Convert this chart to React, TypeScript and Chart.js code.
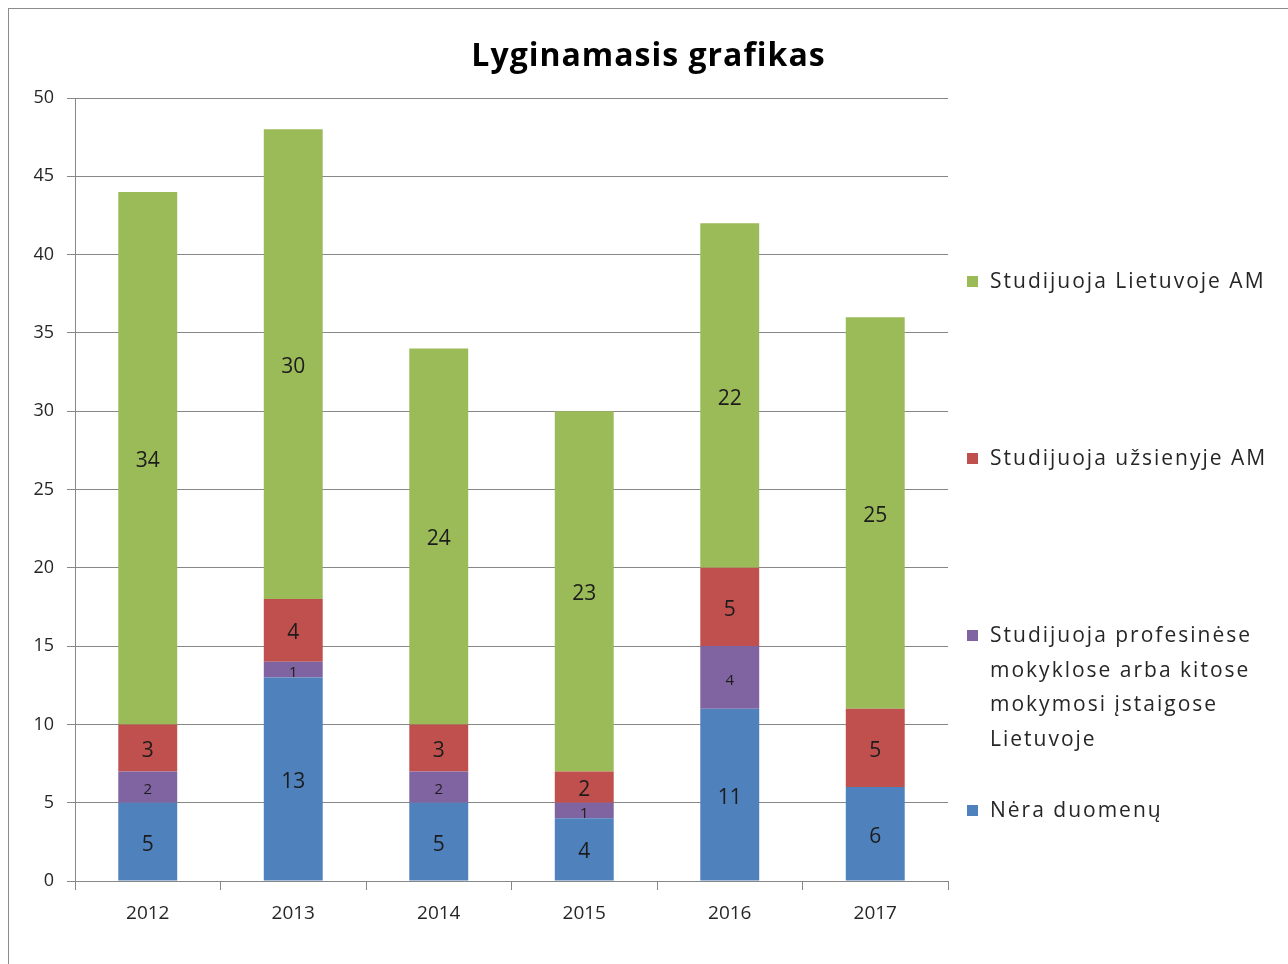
import React, { useEffect, useRef } from "react";
import { Chart, registerables } from "chart.js";

Chart.register(...registerables);

const categories = ["2012", "2013", "2014", "2015", "2016", "2017"];
const neraDuomenu = [5, 13, 5, 4, 11, 6];
const profesinese = [2, 1, 2, 1, 4, 0];
const uzsienyje = [3, 4, 3, 2, 5, 5];
const lietuvoje = [34, 30, 24, 23, 22, 25];

const seriesNames = [
  "Nėra duomenų",
  "Studijuoja profesinėse mokyklose arba kitose mokymosi įstaigose Lietuvoje",
  "Studijuoja užsienyje AM",
  "Studijuoja Lietuvoje AM",
];
const seriesColors = ["#4F81BD", "#8064A2", "#C0504D", "#9BBB59"];
const titleText = "Lyginamasis grafikas";

const FONT = "'Open Sans', Lato, sans-serif";
const TEXT = "#262626";
const GRID = "#878787";

const segmentLabels = {
  id: "segmentLabels",
  afterDatasetsDraw(chart: any) {
    const ctx = chart.ctx;
    chart.data.datasets.forEach((ds: any, i: number) => {
      const meta = chart.getDatasetMeta(i);
      meta.data.forEach((bar: any, j: number) => {
        const v = ds.data[j];
        if (!v) return;
        const p = bar.getProps(["x", "y", "base"], true);
        ctx.save();
        ctx.font = `${i === 1 ? 15 : 21}px ${FONT}`;
        ctx.fillStyle = "#1c1c1c";
        ctx.textAlign = "center";
        ctx.textBaseline = "middle";
        ctx.fillText(String(v), p.x, (p.y + p.base) / 2 + 3);
        ctx.restore();
      });
    });
  },
};

const chartTitle = {
  id: "chartTitle",
  afterDraw(chart: any) {
    const ctx = chart.ctx;
    ctx.save();
    ctx.font = `bold 32px ${FONT}`;
    (ctx as any).letterSpacing = "1px";
    ctx.fillStyle = "#000";
    ctx.textAlign = "center";
    ctx.textBaseline = "middle";
    ctx.fillText(titleText, chart.width / 2, 48);
    ctx.restore();
  },
};

const sideLegend = {
  id: "sideLegend",
  afterDraw(chart: any) {
    const ctx = chart.ctx;
    const area = chart.chartArea;
    const boxX = area.right + 19;
    const textX = area.right + 42;
    const maxW = chart.width - textX - 2;
    const lineH = 34.7;
    const firstLineY = [273, 450, 627, 802];
    ctx.save();
    ctx.font = `21px ${FONT}`;
    (ctx as any).letterSpacing = "2px";
    ctx.textBaseline = "middle";
    ctx.textAlign = "left";
    const order = [3, 2, 1, 0];
    order.forEach((di, k) => {
      const words = seriesNames[di].split(" ");
      const lines: string[] = [];
      let cur = "";
      words.forEach((w) => {
        const t = cur ? cur + " " + w : w;
        if (cur && ctx.measureText(t).width > maxW) {
          lines.push(cur);
          cur = w;
        } else cur = t;
      });
      if (cur) lines.push(cur);
      const y0 = firstLineY[k];
      ctx.fillStyle = seriesColors[di];
      ctx.fillRect(boxX, y0 - 6, 11, 11);
      ctx.fillStyle = TEXT;
      lines.forEach((ln, li) => ctx.fillText(ln, textX, y0 + li * lineH));
    });
    ctx.restore();
  },
};

export default function App() {
  const ref = useRef<HTMLCanvasElement | null>(null);
  useEffect(() => {
    if (!ref.current) return;
    const values = [neraDuomenu, profesinese, uzsienyje, lietuvoje];
    const chart = new Chart(ref.current, {
      type: "bar",
      data: {
        labels: categories,
        datasets: values.map((d, i) => ({
          label: seriesNames[i],
          data: d,
          backgroundColor: seriesColors[i],
          borderWidth: 0,
          barPercentage: 0.405,
          categoryPercentage: 1,
        })),
      },
      options: {
        animation: false,
        responsive: true,
        maintainAspectRatio: false,
        layout: { padding: { top: 89, right: 340, left: 0, bottom: 0 } },
        plugins: {
          legend: { display: false },
          tooltip: { enabled: false },
          title: { display: false },
        },
        scales: {
          x: {
            stacked: true,
            offset: true,
            grid: {
              display: true,
              offset: true,
              drawOnChartArea: false,
              drawTicks: true,
              tickLength: 9,
              color: GRID,
            },
            border: { display: true, color: GRID },
            ticks: { color: TEXT, font: { family: FONT, size: 19 }, padding: 12 },
            afterFit: (s: any) => {
              s.height = 83;
            },
          },
          y: {
            stacked: true,
            min: 0,
            max: 50,
            grid: { color: GRID, tickLength: 8 },
            border: { display: true, color: GRID },
            ticks: {
              stepSize: 5,
              color: TEXT,
              font: { family: FONT, size: 18 },
              padding: 13,
            },
            afterFit: (s: any) => {
              s.width = 66;
            },
          },
        },
      },
      plugins: [segmentLabels, chartTitle, sideLegend],
    } as any);
    return () => chart.destroy();
  }, []);

  return (
    <div
      style={{
        position: "fixed",
        left: 8,
        top: 8,
        width: 1279,
        height: 955,
        borderLeft: "1px solid #8c8c8c",
        borderTop: "1px solid #8c8c8c",
        background: "#fff",
      }}
    >
      <canvas ref={ref} />
    </div>
  );
}
